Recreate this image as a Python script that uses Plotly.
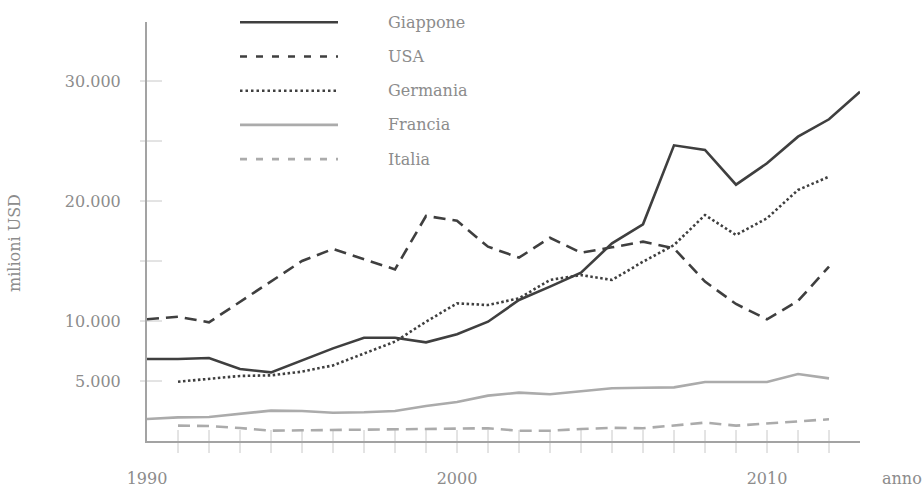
import plotly.graph_objects as go

# Anni e valori (milioni di USD)
anni = list(range(1990, 2014))

giappone = [6830, 6830, 6920, 6000, 5720, 6700, 7720, 8610, 8610, 8220, 8890, 9940,
            11750, 12860, 14030, 16470, 18060, 24640, 24250, 21360, 23140, 25360, 26810, 29110]
usa = [10140, 10360, 9890, 11610, 13280, 15000, 16000, 15140, 14300, 18750, 18360, 16190,
       15280, 16940, 15690, 16140, 16610, 16060, 13280, 11420, 10140, 11670, 14530]
germania = [4940, 5170, 5420, 5470, 5780, 6300, 7310, 8280, 9940, 11470, 11330,
            11890, 13420, 13830, 13420, 14940, 16330, 18830, 17170, 18560, 20920, 22030]
francia = [1830, 1970, 2000, 2250, 2530, 2500, 2360, 2390, 2500, 2920, 3250, 3780,
           4030, 3890, 4110, 4390, 4440, 4470, 4920, 4940, 4920, 5580, 5220]
italia = [1280, 1250, 1080, 860, 890, 920, 950, 950, 1000, 1060, 1060,
          860, 860, 1000, 1100, 1060, 1280, 1530, 1280, 1470, 1670, 1810]

anni_giappone = anni
anni_usa = anni[:-1]
anni_germania = anni[1:-1]
anni_francia = anni[:-1]
anni_italia = anni[1:-1]

y_tick_vals = [5000, 10000, 15000, 20000, 25000, 30000]
y_tick_text = ["5.000", "10.000", "", "20.000", "", "30.000"]
x_tick_vals = anni[1:-1]
x_label_years = [1990, 2000, 2010]

# Layout in pixel
W, H = 923, 488
ML, MR, MT, MB = 147, 63, 22, 47
PW, PH = W - ML - MR, H - MT - MB
PX_PER_UNIT = 0.012          # pixel per milione USD
Y_MAX = PH / PX_PER_UNIT

DARK = "#3f3f3f"
LIGHT = "#ababab"
AXIS = "#a3a3a3"
TICK = "#c8c8c8"
TEXT = "#8c8c8c"
FONT = "DejaVu Serif"

serie = [
    ("Giappone", anni_giappone, giappone, DARK, "solid", "solid"),
    ("USA", anni_usa, usa, DARK, "12px,7px", "7px,9px"),
    ("Germania", anni_germania, germania, DARK, "2.5px,2.5px", "2.5px,3px"),
    ("Francia", anni_francia, francia, LIGHT, "solid", "solid"),
    ("Italia", anni_italia, italia, LIGHT, "12px,7px", "7px,9px"),
]

fig = go.Figure()
for nome, xs, ys, col, dash, _ in serie:
    fig.add_trace(go.Scatter(x=xs, y=ys, mode="lines", name=nome,
                             line=dict(color=col, width=2.6, dash=dash),
                             showlegend=False, hoverinfo="x+y+name"))

shapes = []
annotations = []

# Tacche che attraversano gli assi (sopra/sotto e dentro/fuori)
for v in x_tick_vals:
    shapes.append(dict(type="line", layer="below", xref="x", yref="paper",
                       ysizemode="pixel", yanchor=0, x0=v, x1=v, y0=-12, y1=11,
                       line=dict(color=TICK, width=1)))
for v in y_tick_vals:
    shapes.append(dict(type="line", layer="below", xref="paper", yref="y",
                       xsizemode="pixel", xanchor=0, x0=-7, x1=15, y0=v, y1=v,
                       line=dict(color=TICK, width=1)))

# Legenda disegnata a mano: campione di linea lungo + testo
LEG_X0, LEG_X1, LEG_TX = 240, 338, 386
LEG_Y0, LEG_DY = 22.3, 34.2
for i, (nome, _, _, col, _, ldash) in enumerate(serie):
    ypx = LEG_Y0 + LEG_DY * i
    yp = (H - MB - ypx) / PH
    shapes.append(dict(type="line", xref="paper", yref="paper",
                       x0=(LEG_X0 - ML) / PW, x1=(LEG_X1 - ML) / PW, y0=yp, y1=yp,
                       line=dict(color=col, width=2.6, dash=ldash)))
    annotations.append(dict(text=nome, xref="paper", yref="paper",
                            x=(LEG_TX - ML) / PW, y=yp, xanchor="left", yanchor="middle",
                            showarrow=False, font=dict(family=FONT, size=16, color=TEXT)))

annotations.append(dict(text="anno", xref="paper", yref="paper", x=1, y=0,
                        xshift=42, yshift=-37, xanchor="center", yanchor="middle",
                        showarrow=False, font=dict(family=FONT, size=16, color=TEXT)))
annotations.append(dict(text="milioni USD", xref="paper", yref="paper", x=0,
                        y=(H - MB - 243) / PH, xshift=-132, textangle=-90,
                        xanchor="center", yanchor="middle", showarrow=False,
                        font=dict(family=FONT, size=16, color=TEXT)))

fig.update_layout(
    width=W, height=H,
    margin=dict(l=ML, r=MR, t=MT, b=MB, autoexpand=False),
    paper_bgcolor="white", plot_bgcolor="white",
    font=dict(family=FONT, size=16, color=TEXT),
    shapes=shapes, annotations=annotations,
    xaxis=dict(range=[1990, 2013], showline=True, linecolor=AXIS, linewidth=1.6,
               tickmode="array", tickvals=x_label_years,
               ticktext=[str(a) for a in x_label_years], ticks="",
               ticklabelstandoff=22, tickfont=dict(family=FONT, size=16, color=TEXT),
               showgrid=False, zeroline=False, fixedrange=True),
    yaxis=dict(range=[0, Y_MAX], showline=True, linecolor=AXIS, linewidth=2,
               tickmode="array", tickvals=y_tick_vals, ticktext=y_tick_text,
               ticks="", ticklabelstandoff=21,
               tickfont=dict(family=FONT, size=16, color=TEXT),
               showgrid=False, zeroline=False, fixedrange=True),
)

fig.write_html("out.html")
